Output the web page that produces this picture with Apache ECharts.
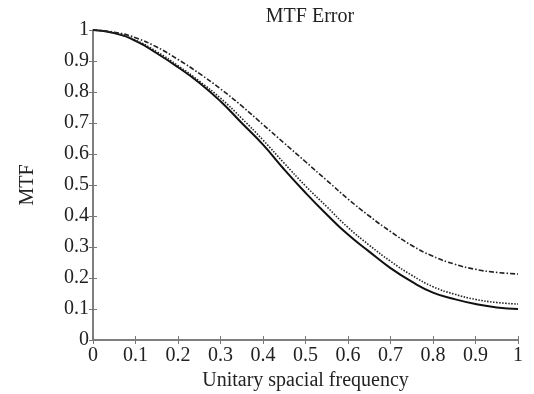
<!DOCTYPE html>
<html>
<head>
<meta charset="utf-8">
<script src="https://cdn.jsdelivr.net/npm/echarts@6/dist/echarts.min.js"></script>
<style>
  html, body { margin: 0; padding: 0; background: #fff; }
  #chart { width: 534px; height: 394px; }
</style>
</head>
<body>
<div id="chart"></div>
<script>
// spatial frequency samples
var freq = [0, 0.05, 0.1, 0.15, 0.2, 0.25, 0.3, 0.35, 0.4, 0.45, 0.5,
            0.55, 0.6, 0.65, 0.7, 0.75, 0.8, 0.85, 0.9, 0.95, 1.0];
// solid curve
var mtfSolid = [1.0, 0.99, 0.965, 0.925, 0.88, 0.83, 0.77, 0.70, 0.63, 0.55, 0.475,
                0.405, 0.34, 0.285, 0.232, 0.188, 0.153, 0.132, 0.116, 0.105, 0.10];
// dotted curve
var mtfDotted = [1.0, 0.99, 0.967, 0.93, 0.885, 0.835, 0.78, 0.715, 0.645, 0.57, 0.497,
                 0.43, 0.363, 0.306, 0.254, 0.209, 0.172, 0.148, 0.131, 0.121, 0.116];
// dash-dot curve
var mtfDashDot = [1.0, 0.993, 0.975, 0.945, 0.905, 0.86, 0.81, 0.755, 0.695, 0.635, 0.575,
                  0.515, 0.455, 0.40, 0.35, 0.305, 0.27, 0.245, 0.228, 0.218, 0.213];

function pairs(ys) {
    return freq.map(function (x, i) { return [x, ys[i]]; });
}

var font = 'Liberation Serif, Times New Roman, serif';
var axisColor = '#777';

var myChart = echarts.init(document.getElementById('chart'));

var baseAxis = {
    type: 'value',
    min: 0,
    max: 1,
    interval: 0.1,
    splitLine: {show: false},
    axisLine: {show: true, lineStyle: {color: axisColor, width: 1.5}},
    axisTick: {show: true, inside: true, length: 4, lineStyle: {color: axisColor}}
};

option = {
    backgroundColor: '#fff',
    animation: false,
    title: {
        text: 'MTF Error',
        left: 305,
        textAlign: 'center',
        top: 2,
        textStyle: {fontFamily: font, fontSize: 20, fontWeight: 'normal', color: '#222'}
    },
    grid: {left: 93, right: 16, top: 30, bottom: 54, outerBoundsMode: 'none', containLabel: false},
    xAxis: [
        Object.assign({}, baseAxis, {
            position: 'bottom',
            name: 'Unitary spacial frequency',
            nameLocation: 'middle',
            nameGap: 31,
            nameTextStyle: {fontFamily: font, fontSize: 20, color: '#222'},
            axisLabel: {
                fontFamily: font, fontSize: 20, color: '#222', margin: 6,
                formatter: function (v) { return +v.toFixed(1) + ''; }
            }
        }),
        Object.assign({}, baseAxis, {position: 'top', axisLabel: {show: false}})
    ],
    yAxis: [
        Object.assign({}, baseAxis, {
            position: 'left',
            name: 'MTF',
            nameLocation: 'middle',
            nameGap: 55,
            nameTextStyle: {fontFamily: font, fontSize: 20, color: '#222'},
            axisLabel: {
                fontFamily: font, fontSize: 20, color: '#222', margin: 4,
                formatter: function (v) { return +v.toFixed(1) + ''; }
            }
        }),
        Object.assign({}, baseAxis, {position: 'right', axisLabel: {show: false}})
    ],
    series: [
        {
            name: 'solid',
            type: 'line',
            smooth: true,
            symbol: 'none',
            lineStyle: {color: '#111', width: 2},
            data: pairs(mtfSolid)
        },
        {
            name: 'dotted',
            type: 'line',
            smooth: true,
            symbol: 'none',
            lineStyle: {color: '#222', width: 1.6, type: [1.5, 1.5]},
            data: pairs(mtfDotted)
        },
        {
            name: 'dashdot',
            type: 'line',
            smooth: true,
            symbol: 'none',
            lineStyle: {color: '#222', width: 1.6, type: [5, 2, 1.5, 2]},
            data: pairs(mtfDashDot)
        }
    ]
};

myChart.setOption(option);
</script>
</body>
</html>
